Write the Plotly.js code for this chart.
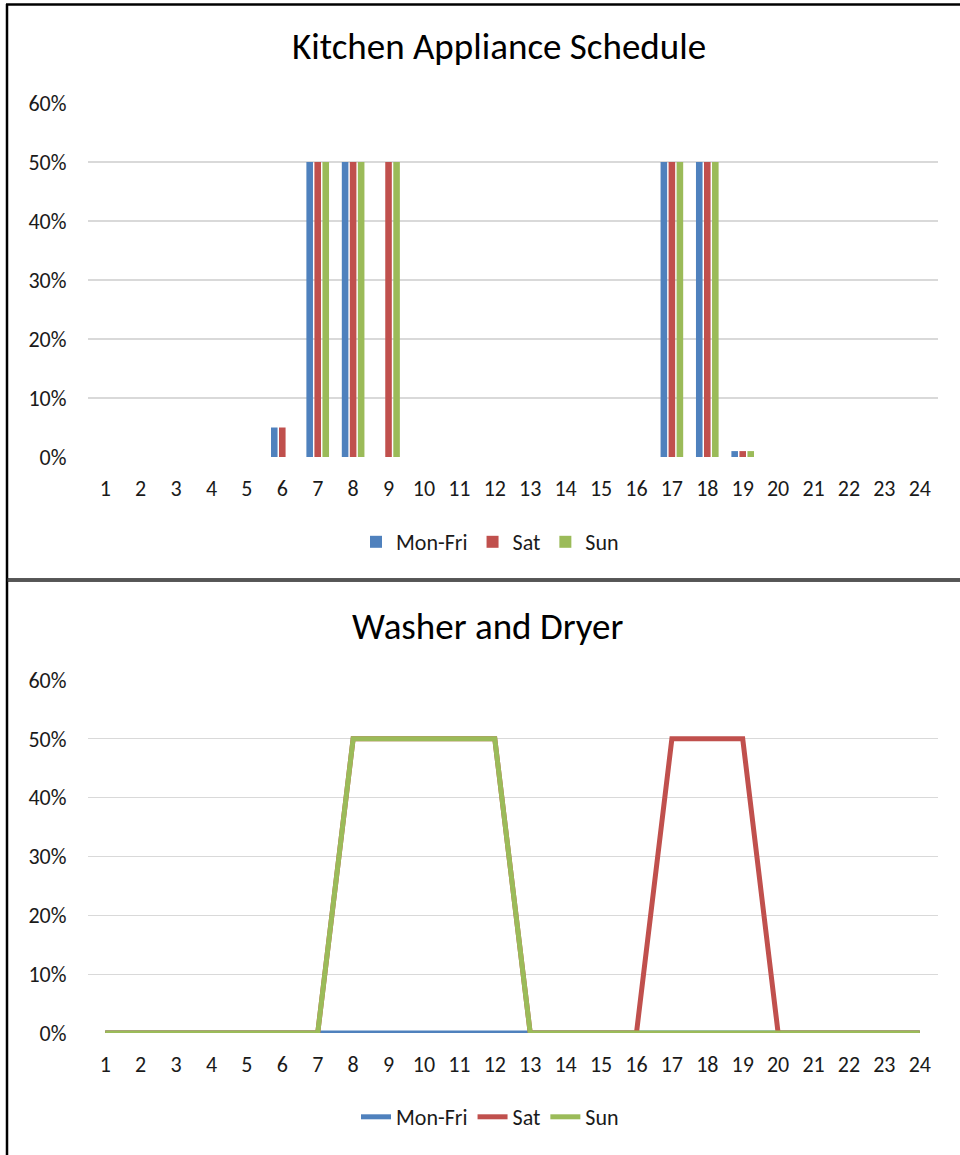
<!DOCTYPE html>
<html>
<head>
<meta charset="utf-8">
<script src="https://cdn.plot.ly/plotly-3.0.1.min.js"></script>
<style>
html,body{margin:0;padding:0;background:#fff;}
#chart{width:960px;height:1155px;}
</style>
</head>
<body>
<div id="chart"></div>
<script>
// ---- data ----
const hours = [1,2,3,4,5,6,7,8,9,10,11,12,13,14,15,16,17,18,19,20,21,22,23,24];
const seriesNames = ["Mon-Fri","Sat","Sun"];
const seriesColors = ["#4f81bd","#c0504d","#9bbb59"];

// Kitchen Appliance Schedule (fraction)
const kitchenMonFri = [0,0,0,0,0,0.05,0.5,0.5,0,0,0,0,0,0,0,0,0.5,0.5,0.01,0,0,0,0,0];
const kitchenSat    = [0,0,0,0,0,0.05,0.5,0.5,0.5,0,0,0,0,0,0,0,0.5,0.5,0.01,0,0,0,0,0];
const kitchenSun    = [0,0,0,0,0,0,0.5,0.5,0.5,0,0,0,0,0,0,0,0.5,0.5,0.01,0,0,0,0,0];

// Washer and Dryer (fraction)
const washerMonFri = [0,0,0,0,0,0,0,0,0,0,0,0,0,0,0,0,0,0,0,0,0,0,0,0];
const washerSat    = [0,0,0,0,0,0,0,0.5,0.5,0.5,0.5,0.5,0,0,0,0,0.5,0.5,0.5,0,0,0,0,0];
const washerSun    = [0,0,0,0,0,0,0,0.5,0.5,0.5,0.5,0.5,0,0,0,0,0,0,0,0,0,0,0,0];

const yTickVals = [0,0.1,0.2,0.3,0.4,0.5,0.6];
const yTickText = ["0%","10%","20%","30%","40%","50%","60%"];
const chartTitles = ["Kitchen Appliance Schedule","Washer and Dryer"];

// ---- layout helpers ----
const W = 960, H = 1155;
const py = v => 1 - v / H;
const px = v => v / W;
const FONT = "Carlito, Lato, 'Open Sans', sans-serif";
const TXT = "#1a1a1a";

const kitchen = [kitchenMonFri, kitchenSat, kitchenSun];
const washer = [washerMonFri, washerSat, washerSun];

const traces = [];
kitchen.forEach((vals, i) => {
  traces.push({
    type: "bar", x: hours, y: vals, name: seriesNames[i],
    marker: {color: seriesColors[i], line: {width: 0}},
    xaxis: "x", yaxis: "y", legend: "legend"
  });
});
washer.forEach((vals, i) => {
  traces.push({
    type: "scatter", mode: "lines", x: hours, y: vals, name: seriesNames[i],
    line: {color: seriesColors[i], width: 5, shape: "linear"},
    xaxis: "x2", yaxis: "y2", legend: "legend2"
  });
});

const xAxisBase = {
  range: [0.5, 24.5], tickmode: "array", tickvals: hours, ticktext: hours.map(String),
  showgrid: false, zeroline: false, showline: false, ticks: "",
  tickfont: {family: FONT, size: 22, color: TXT}, ticklabelstandoff: 16,
  domain: [px(87.5), px(937.5)], fixedrange: true
};
const yAxisBase = {
  range: [0, 0.6], tickmode: "array", tickvals: yTickVals, ticktext: yTickText,
  showgrid: true, gridcolor: "#d9d9d9", gridwidth: 1.3, zeroline: false, showline: false,
  ticks: "", tickfont: {family: FONT, size: 22, color: TXT}, ticklabelstandoff: 20,
  fixedrange: true
};

const layout = {
  width: W, height: H,
  margin: {l: 0, r: 0, t: 0, b: 0},
  paper_bgcolor: "#fff", plot_bgcolor: "rgba(0,0,0,0)",
  font: {family: FONT, color: TXT},
  barmode: "group", bargap: 0.32, bargroupgap: 0.18,
  xaxis: Object.assign({}, xAxisBase, {anchor: "y"}),
  yaxis: Object.assign({}, yAxisBase, {anchor: "x", domain: [py(457), py(103)]}),
  xaxis2: Object.assign({}, xAxisBase, {anchor: "y2"}),
  yaxis2: Object.assign({}, yAxisBase, {anchor: "x2", domain: [py(1033), py(680)]}),
  legend: {
    orientation: "h", x: px(490), xanchor: "center", y: py(542), yanchor: "middle",
    font: {family: FONT, size: 22, color: TXT}, bgcolor: "rgba(0,0,0,0)", traceorder: "normal"
  },
  legend2: {
    orientation: "h", x: px(490), xanchor: "center", y: py(1117), yanchor: "middle",
    font: {family: FONT, size: 22, color: TXT}, bgcolor: "rgba(0,0,0,0)", traceorder: "normal"
  },
  annotations: [
    {text: chartTitles[0], xref: "paper", yref: "paper", x: px(499), y: py(47),
     xanchor: "center", yanchor: "middle", showarrow: false,
     font: {family: FONT, size: 37, color: "#000"}},
    {text: chartTitles[1], xref: "paper", yref: "paper", x: px(487), y: py(626),
     xanchor: "center", yanchor: "middle", showarrow: false,
     font: {family: FONT, size: 37, color: "#000"}}
  ],
  shapes: [
    {type: "line", xref: "paper", yref: "paper", x0: px(7), x1: px(7), y0: 0, y1: py(4),
     line: {color: "#000", width: 2.5}},
    {type: "line", xref: "paper", yref: "paper", x0: px(6), x1: 1, y0: py(4.5), y1: py(4.5),
     line: {color: "#000", width: 2.5}},
    {type: "line", xref: "paper", yref: "paper", x0: px(7), x1: 1, y0: py(580), y1: py(580),
     line: {color: "#222", width: 3.5}},
    {type: "line", xref: "paper", yref: "paper", x0: px(8), x1: 1, y0: py(580), y1: py(580),
     line: {color: "#888", width: 1}}
  ]
};

Plotly.newPlot("chart", traces, layout, {displayModeBar: false, staticPlot: true});
</script>
</body>
</html>
